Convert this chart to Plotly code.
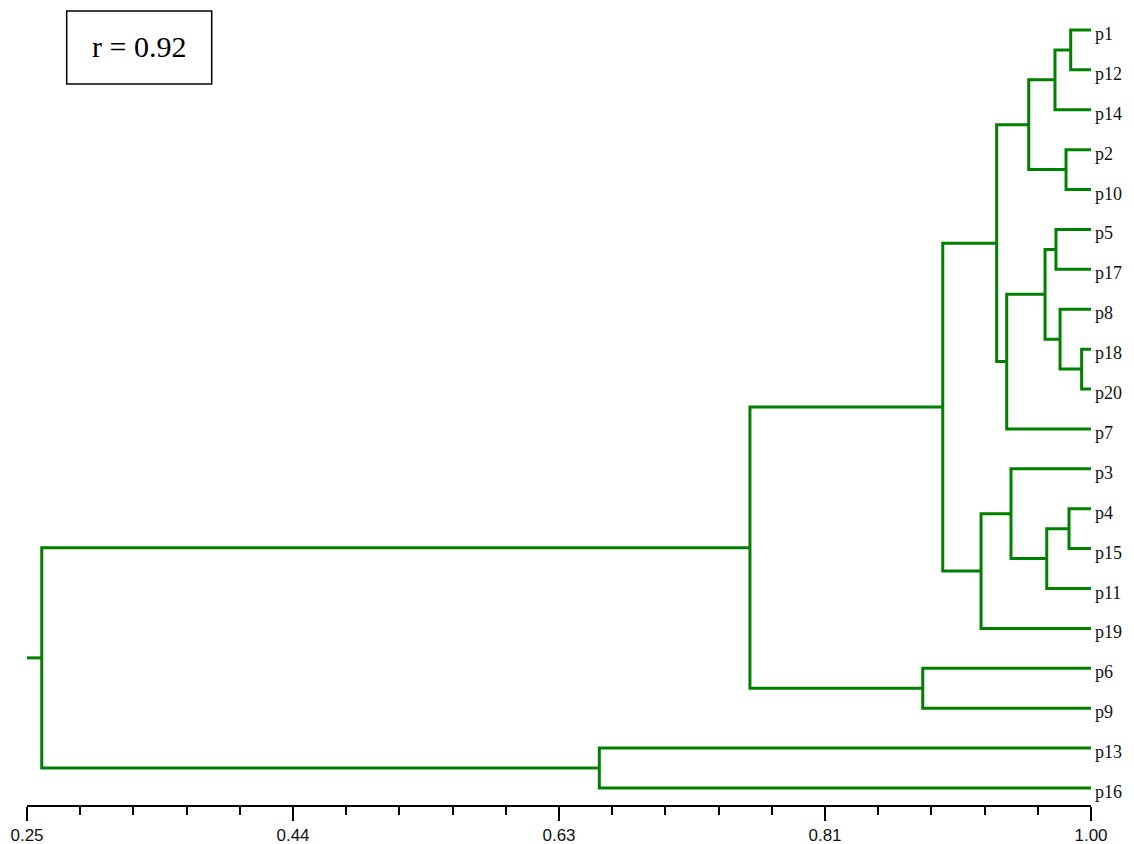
import plotly.graph_objects as go

# Leaf order from top to bottom
leaves = ["p1", "p12", "p14", "p2", "p10", "p5", "p17", "p8", "p18", "p20",
          "p7", "p3", "p4", "p15", "p11", "p19", "p6", "p9", "p13", "p16"]

# Agglomeration steps: children (leaf name or merge id "mN") and similarity level
merge_left = ["p1", "m1", "p2", "m2", "p5", "p18", "p8", "m5", "m8", "m4",
              "p4", "m11", "p3", "m13", "m10", "p6", "m15", "p13", "m17"]
merge_right = ["p12", "p14", "p10", "m3", "p17", "p20", "m6", "m7", "p7", "m9",
               "p15", "p11", "m12", "p19", "m14", "p9", "m16", "p16", "m18"]
merge_sim = [0.9857, 0.9746, 0.9824, 0.9561, 0.9753, 0.9934, 0.9782, 0.9676, 0.9406, 0.9335,
             0.9845, 0.9688, 0.9436, 0.9225, 0.8955, 0.8814, 0.7596, 0.6534, 0.2604]

axis_min, axis_max = 0.25, 1.00
major_ticks = [0.25, 0.4375, 0.625, 0.8125, 1.00]
major_text = ["0.25", "0.44", "0.63", "0.81", "1.00"]
minor_step = 0.0375
r_label = "r = 0.92"

GREEN = "#008000"

# node positions: x = similarity, y = leaf slot
pos = {name: (axis_max, i) for i, name in enumerate(leaves)}
xs, ys = [], []
for k, (a, b, s) in enumerate(zip(merge_left, merge_right, merge_sim), start=1):
    xa, ya = pos[a]
    xb, yb = pos[b]
    xs += [xa, s, s, xb, None]
    ys += [ya, ya, yb, yb, None]
    pos[f"m{k}"] = (s, (ya + yb) / 2)

# stem from the root back to the axis origin
root_x, root_y = pos[f"m{len(merge_sim)}"]
xs += [axis_min, root_x, None]
ys += [root_y, root_y, None]

fig = go.Figure()
fig.add_trace(go.Scatter(x=xs, y=ys, mode="lines", cliponaxis=False,
                         line=dict(color=GREEN, width=3), hoverinfo="skip",
                         showlegend=False))

for i, name in enumerate(leaves):
    fig.add_annotation(x=axis_max, y=i, xref="x", yref="y", text=name,
                       showarrow=False, xanchor="left", yanchor="middle",
                       xshift=2, yshift=-4,
                       font=dict(family="Liberation Serif, Times New Roman, serif",
                                 size=18, color="#111"))

# correlation box
fig.add_shape(type="rect", xref="paper", yref="paper",
              x0=0.0373, x1=0.1736, y0=0.9069, y1=0.9987,
              line=dict(color="black", width=1.5), fillcolor="white")
fig.add_annotation(x=0.1053, y=0.9535, xref="paper", yref="paper", text=r_label,
                   showarrow=False, xanchor="center", yanchor="middle",
                   font=dict(family="Liberation Serif, Times New Roman, serif",
                             size=30, color="black"))

minor_vals = [axis_min + k * minor_step for k in range(21)]

fig.update_layout(
    width=1134, height=844,
    margin=dict(l=27, r=43, t=10, b=39),
    plot_bgcolor="white", paper_bgcolor="white",
    xaxis=dict(range=[axis_min, axis_max], showgrid=False, zeroline=False,
               automargin=False,
               showline=True, linecolor="black", linewidth=1.5,
               tickmode="array", tickvals=major_ticks, ticktext=major_text,
               ticks="outside", ticklen=14, tickwidth=1.5, tickcolor="black",
               tickfont=dict(family="Liberation Sans, Arial, sans-serif",
                             size=17, color="#111"),
               minor=dict(tickmode="array", tickvals=minor_vals, ticks="outside",
                          ticklen=8, tickwidth=1.5, tickcolor="black", showgrid=False)),
    yaxis=dict(range=[19.426, -0.5], visible=False, showgrid=False, zeroline=False,
               automargin=False),
)

fig.write_html("out.html")
